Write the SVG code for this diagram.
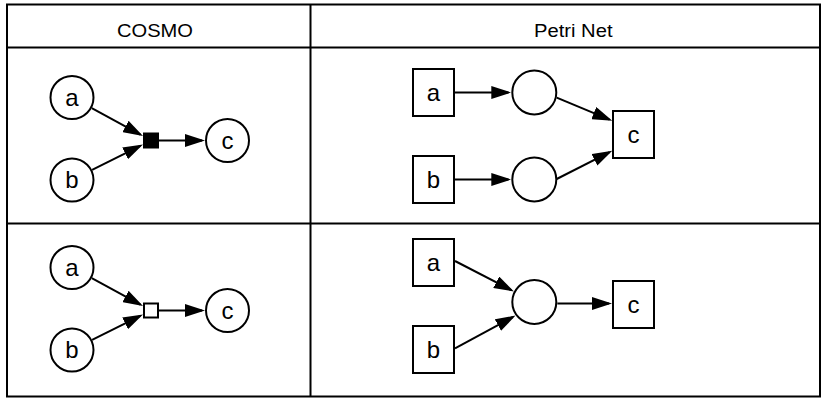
<svg xmlns="http://www.w3.org/2000/svg" width="825" height="398" viewBox="0 0 825 398">
<style>
.grid{fill:none;stroke:#000;stroke-width:2}
.node{fill:#fff;stroke:#000;stroke-width:2}
.dark{fill:#000;stroke:#000;stroke-width:2}
.lbl{font-family:"Liberation Sans",Arial,sans-serif;font-size:24px;fill:#000;text-anchor:middle}
.hdr{font-family:"Liberation Sans",Arial,sans-serif;font-size:17.5px;fill:#000}
.edge{fill:none;stroke:#000;stroke-width:2;marker-end:url(#arr)}
</style>
<defs>
<marker id="arr" viewBox="0 0 20 13" markerWidth="20" markerHeight="13" refX="17" refY="6.5" orient="auto" markerUnits="userSpaceOnUse">
<path d="M0,0 L20,6.5 L0,13 z" fill="#000"/>
</marker>
</defs>
<rect width="825" height="398" fill="#fff"/>
<g id="table">
<rect class="grid" x="7" y="4.5" width="813" height="392"/>
<line class="grid" x1="7" y1="47.5" x2="820" y2="47.5"/>
<line class="grid" x1="7" y1="223.5" x2="820" y2="223.5"/>
<line class="grid" x1="310.5" y1="4.5" x2="310.5" y2="396.5"/>
<text class="hdr" x="117" y="36.8" textLength="76" lengthAdjust="spacingAndGlyphs">COSMO</text>
<text class="hdr" x="534" y="36.8" textLength="78.5" lengthAdjust="spacingAndGlyphs">Petri Net</text>
</g>
<g id="connectors">
<path class="edge" d="M91.8,108.2 L140.4,134.6"/>
<path class="edge" d="M92.1,169.9 L140.3,145.8"/>
<path class="edge" d="M159,140.5 L202,140.5"/>
<path class="edge" d="M91.8,278.2 L140.4,304.6"/>
<path class="edge" d="M92.1,339.9 L140.3,315.8"/>
<path class="edge" d="M159,310.5 L202,310.5"/>
<path class="edge" d="M455,92.5 L508.3,92.5"/>
<path class="edge" d="M455,179.5 L508.3,179.5"/>
<path class="edge" d="M556.7,97.7 L609.5,119.6"/>
<path class="edge" d="M556.7,179 L609.6,152.1"/>
<path class="edge" d="M455,261 L511.3,290.1"/>
<path class="edge" d="M455,348.3 L512.9,317"/>
<path class="edge" d="M557.3,303.5 L609,303.5"/>
</g>
<g id="cosmo1-a"><circle class="node" cx="72" cy="97.5" r="21.5"/><text class="lbl" x="72" y="105.5">a</text></g>
<g id="cosmo1-b"><circle class="node" cx="72" cy="180" r="21.5"/><text class="lbl" x="72" y="188">b</text></g>
<g id="cosmo1-and"><rect class="dark" x="144" y="133.5" width="14" height="14"/></g>
<g id="cosmo1-c"><circle class="node" cx="227.5" cy="140.5" r="21.5"/><text class="lbl" x="227.5" y="148.5">c</text></g>
<g id="cosmo2-a"><circle class="node" cx="72" cy="267.5" r="21.5"/><text class="lbl" x="72" y="275.5">a</text></g>
<g id="cosmo2-b"><circle class="node" cx="72" cy="350" r="21.5"/><text class="lbl" x="72" y="358">b</text></g>
<g id="cosmo2-or"><rect class="node" x="144" y="303.5" width="14" height="14"/></g>
<g id="cosmo2-c"><circle class="node" cx="227.5" cy="310.5" r="21.5"/><text class="lbl" x="227.5" y="318.5">c</text></g>
<g id="petri1-a"><rect class="node" x="413" y="69" width="41" height="47"/><text class="lbl" x="433.5" y="100.5">a</text></g>
<g id="petri1-b"><rect class="node" x="413" y="156" width="41" height="47"/><text class="lbl" x="433.5" y="187.5">b</text></g>
<g id="petri1-p1"><circle class="node" cx="534.3" cy="92.5" r="22"/></g>
<g id="petri1-p2"><circle class="node" cx="534.3" cy="179.5" r="22"/></g>
<g id="petri1-c"><rect class="node" x="613" y="111" width="41" height="47"/><text class="lbl" x="633.5" y="142.5">c</text></g>
<g id="petri2-a"><rect class="node" x="413" y="239" width="41" height="47"/><text class="lbl" x="433.5" y="270.5">a</text></g>
<g id="petri2-b"><rect class="node" x="413" y="326" width="41" height="47"/><text class="lbl" x="433.5" y="357.5">b</text></g>
<g id="petri2-p"><circle class="node" cx="534.3" cy="302" r="22"/></g>
<g id="petri2-c"><rect class="node" x="613" y="281" width="41" height="47"/><text class="lbl" x="633.5" y="312.5">c</text></g>
</svg>
